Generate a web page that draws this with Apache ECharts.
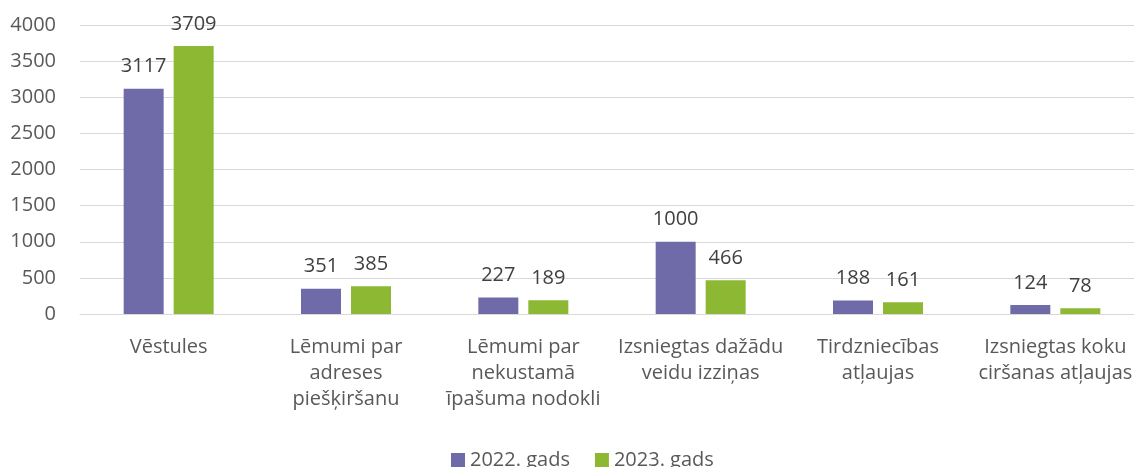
<!DOCTYPE html>
<html>
<head>
<meta charset="utf-8">
<script src="https://cdn.jsdelivr.net/npm/echarts@6/dist/echarts.min.js"></script>
<style>
  html, body { margin: 0; padding: 0; background: #fff; overflow: hidden; }
  #chart { width: 1144px; height: 467px; }
</style>
</head>
<body>
<div id="chart"></div>
<script>
var categories = [
  "Vēstules",
  "Lēmumi par\nadreses\npiešķiršanu",
  "Lēmumi par\nnekustamā\nīpašuma nodokli",
  "Izsniegtas dažādu\nveidu izziņas",
  "Tirdzniecības\natļaujas",
  "Izsniegtas koku\nciršanas atļaujas"
];
var seriesNames = ["2022. gads", "2023. gads"];
var values2022 = [3117, 351, 227, 1000, 188, 124];
var values2023 = [3709, 385, 189, 466, 161, 78];

var font = "Open Sans, Liberation Sans, sans-serif";
var textColor = "#595959";

var chart = echarts.init(document.getElementById("chart"));

function makeSeries(name, data, color) {
  return {
    name: name,
    type: "bar",
    data: data,
    barWidth: 40,
    barGap: "25%",
    itemStyle: { color: color },
    label: {
      show: true,
      position: "top",
      distance: 12,
      color: "#404040",
      fontFamily: font,
      fontSize: 20
    }
  };
}

chart.setOption({
  animation: false,
  color: ["#6E6BA8", "#8CB834"],
  grid: { left: 80, right: 0, top: 25, height: 289, containLabel: false },
  legend: {
    top: 445,
    left: 446,
    itemWidth: 14,
    itemHeight: 14,
    itemGap: 25,
    icon: "rect",
    textStyle: { color: textColor, fontFamily: font, fontSize: 20 },
    data: seriesNames
  },
  xAxis: {
    type: "category",
    data: categories,
    axisLine: { lineStyle: { color: "#d9d9d9" } },
    axisTick: { show: false },
    axisLabel: {
      color: textColor,
      fontFamily: font,
      fontSize: 20,
      lineHeight: 26,
      margin: 20,
      interval: 0
    }
  },
  yAxis: {
    type: "value",
    min: 0,
    max: 4000,
    interval: 500,
    axisLine: { show: false },
    axisTick: { show: false },
    splitLine: { lineStyle: { color: "#d9d9d9" } },
    axisLabel: {
      color: textColor,
      fontFamily: font,
      fontSize: 20,
      margin: 24,
      formatter: function (v) { return String(v); }
    }
  },
  series: [
    makeSeries(seriesNames[0], values2022, "#6E6BA8"),
    makeSeries(seriesNames[1], values2023, "#8CB834")
  ]
});
</script>
</body>
</html>
